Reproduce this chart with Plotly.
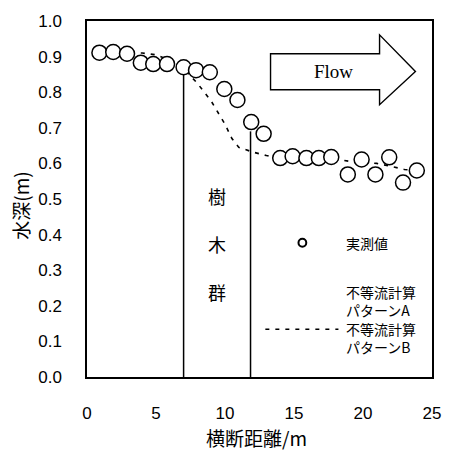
import plotly.graph_objects as go

# Measured water depth along the cross section
dist_obs = [0.9, 1.9, 2.9, 3.9, 4.8, 5.8, 7.0, 7.9, 8.9, 9.95, 10.9, 11.9,
            12.8, 14.0, 14.9, 15.9, 16.8, 17.7, 18.9, 19.9, 20.9, 21.9, 22.9, 23.9]
depth_obs = [0.911, 0.913, 0.908, 0.883, 0.879, 0.879, 0.870, 0.862, 0.856, 0.809, 0.778, 0.716,
             0.683, 0.615, 0.620, 0.615, 0.615, 0.618, 0.569, 0.611, 0.569, 0.617, 0.546, 0.580]

# Non-uniform flow computation, pattern B
dist_b = [1, 2, 3, 4, 5, 6, 7, 8, 9, 10, 10.5, 11, 12, 13, 14, 16, 18, 19, 20, 21, 22, 23, 24]
depth_b = [0.912, 0.912, 0.912, 0.910, 0.905, 0.890, 0.866, 0.825, 0.775, 0.710, 0.670,
           0.645, 0.632, 0.622, 0.616, 0.614, 0.612, 0.606, 0.602, 0.600, 0.592, 0.583, 0.580]

# Edges of the tree group and the water surface there
tree_x = [7.0, 11.85]
tree_top = [0.866, 0.69]

x_ticks = [0, 5, 10, 15, 20, 25]
y_ticks = [0.0, 0.1, 0.2, 0.3, 0.4, 0.5, 0.6, 0.7, 0.8, 0.9, 1.0]

JP = "Noto Sans CJK JP"
SANS = "Liberation Sans"

fig = go.Figure()

for xv, top in zip(tree_x, tree_top):
    fig.add_trace(go.Scatter(x=[xv, xv], y=[0, top], mode="lines",
                             line=dict(color="black", width=1.5),
                             showlegend=False, hoverinfo="skip"))

fig.add_trace(go.Scatter(x=dist_b, y=depth_b, mode="lines",
                         line=dict(color="black", width=1.6, dash="4px,6px"),
                         showlegend=False))

fig.add_trace(go.Scatter(x=dist_obs, y=depth_obs, mode="markers",
                         marker=dict(symbol="circle", size=15, color="white",
                                     line=dict(color="black", width=1.5)),
                         showlegend=False))

# Flow direction arrow
fig.add_shape(type="path",
              path="M 13.3 0.908 L 21.2 0.908 L 21.2 0.961 L 23.8 0.858 "
                   "L 21.2 0.765 L 21.2 0.807 L 13.3 0.807 Z",
              xref="x", yref="y", line=dict(color="black", width=1.4),
              fillcolor="white", layer="above")
fig.add_annotation(x=17.85, y=0.858, xref="x", yref="y", text="Flow",
                   showarrow=False, xanchor="center", yanchor="middle",
                   font=dict(family="Liberation Serif", size=19, color="black"))

# Tree group label
for ch, yv in zip(["樹", "木", "群"], [0.509, 0.375, 0.238]):
    fig.add_annotation(x=9.45, y=yv, xref="x", yref="y", text=ch, showarrow=False,
                       xanchor="center", yanchor="middle",
                       font=dict(family=JP, size=18, color="black"))

# Legend
def px_x(p):
    return (p - 87) / 354.0

def px_y(p):
    return (377 - p) / 358.0

fig.add_shape(type="circle", xref="paper", yref="paper",
              x0=px_x(304), x1=px_x(312), y0=px_y(246), y1=px_y(238),
              line=dict(color="black", width=2), fillcolor="white")
fig.add_shape(type="line", xref="paper", yref="paper",
              x0=px_x(270), x1=px_x(345), y0=px_y(329), y1=px_y(329),
              line=dict(color="black", width=1.6, dash="4px,6px"))
for txt, yp in [("実測値", 242), ("不等流計算<br>パターンA", 301),
                ("不等流計算<br>パターンB", 338)]:
    fig.add_annotation(x=px_x(351), y=px_y(yp), xref="paper", yref="paper",
                       text=txt, showarrow=False, xanchor="left", yanchor="middle",
                       align="left", font=dict(family=JP, size=14, color="black"))

# Axis titles
fig.add_annotation(x=px_x(261), y=px_y(438), xref="paper", yref="paper",
                   text="横断距離/m", showarrow=False, xanchor="center", yanchor="middle",
                   font=dict(family=JP, size=19, color="black"))
fig.add_annotation(x=px_x(19), y=px_y(205), xref="paper", yref="paper",
                   text="水深(m)", showarrow=False, textangle=-90,
                   xanchor="center", yanchor="middle",
                   font=dict(family=JP, size=19, color="black"))

fig.update_xaxes(range=[0, 25], tickvals=x_ticks, ticktext=[str(v) for v in x_ticks],
                 showgrid=False, zeroline=False, showline=True, mirror=True,
                 linecolor="black", linewidth=1.5, ticks="", ticklabelstandoff=20,
                 tickfont=dict(family=SANS, size=17, color="black"))
fig.update_yaxes(range=[0, 1.0], tickvals=y_ticks, ticktext=[f"{v:.1f}" for v in y_ticks],
                 showgrid=False, zeroline=False, showline=True, mirror=True,
                 linecolor="black", linewidth=1.5, ticks="", ticklabelstandoff=20,
                 tickfont=dict(family=SANS, size=17, color="black"))

fig.update_layout(width=453, height=450, margin=dict(l=87, r=12, t=19, b=73),
                  paper_bgcolor="white", plot_bgcolor="white", showlegend=False)

fig.write_html("out.html")
